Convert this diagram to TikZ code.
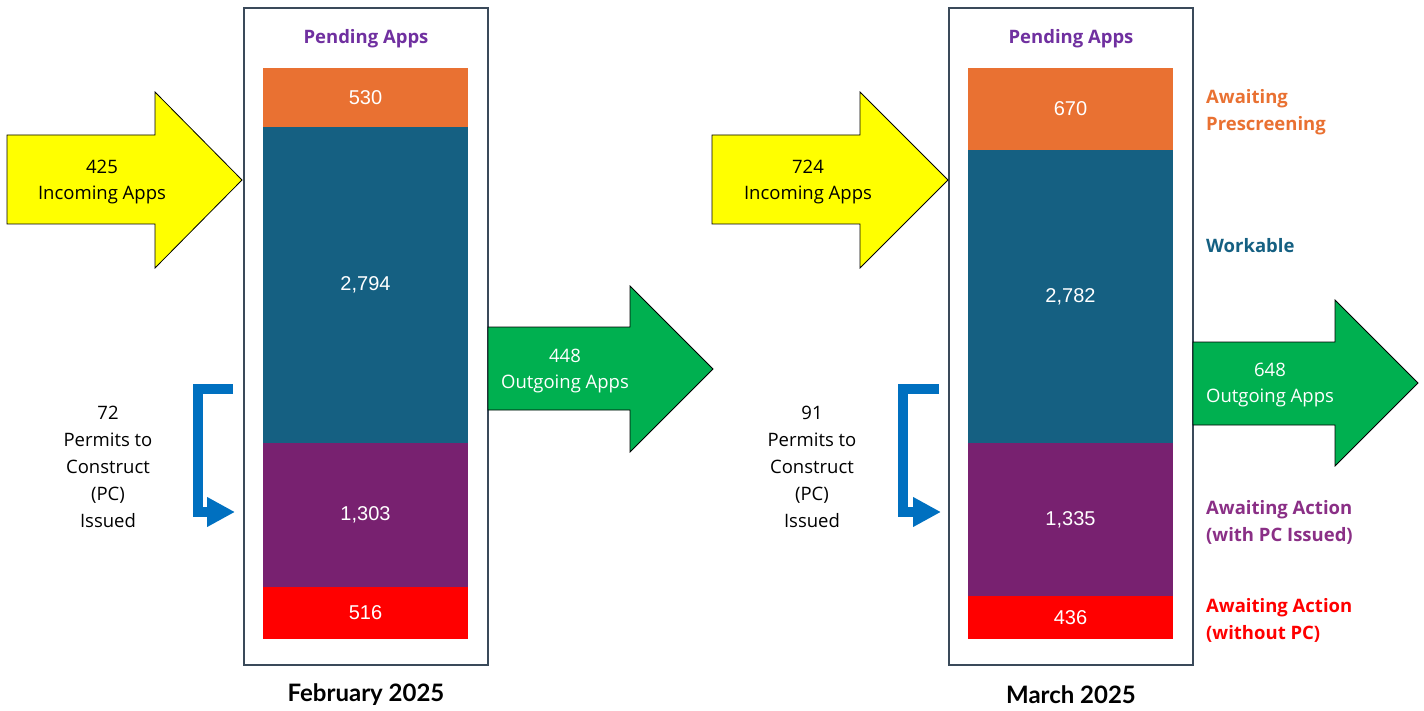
\documentclass[tikz,border=0pt]{standalone}
\usepackage{fontspec}
\setmainfont{Open Sans}
\newfontfamily\numfont{Liberation Sans}
\newfontfamily\monthfont{Lato}
\usetikzlibrary{arrows.meta}
\definecolor{segorange}{HTML}{E97132}
\definecolor{segblue}{HTML}{156082}
\definecolor{segpurple}{HTML}{782170}
\definecolor{segred}{HTML}{FF0000}
\definecolor{inyellow}{HTML}{FFFF00}
\definecolor{outgreen}{HTML}{00B050}
\definecolor{pcblue}{HTML}{0070C0}
\definecolor{framegray}{HTML}{3A4A5A}
\definecolor{titlepurple}{HTML}{7030A0}
\definecolor{lblpurple}{HTML}{8A2F86}

\begin{document}
\begin{tikzpicture}[x=1pt,y=-1pt,
  panel/.style={draw=framegray, line width=1.8pt, fill=white},
  seg/.style={anchor=north west, inner sep=0pt, outer sep=0pt, minimum width=205pt,
    text=white, font=\numfont\fontsize{20}{22}\selectfont},
  flow/.style={draw=black, line width=0.8pt, line join=miter},
  flowtext/.style={align=center, inner sep=0pt, font=\fontsize{18.5}{26}\selectfont},
  pctext/.style={align=center, inner sep=0pt, font=\fontsize{18.5}{27}\selectfont},
  pcarrow/.style={draw=pcblue, line width=10pt, line join=miter,
    -{Triangle[length=28pt,width=28pt]}},
  paneltitle/.style={text=titlepurple, font=\bfseries\fontsize{18.5}{22}\selectfont},
  month/.style={font=\monthfont\bfseries\fontsize{24}{28}\selectfont},
  legend/.style={anchor=west, align=left, inner sep=0pt,
    font=\bfseries\fontsize{18.5}{27}\selectfont}
]
\useasboundingbox (0,0) rectangle (1424,711);

% ---------- February panel ----------
\draw[panel] (244,8) rectangle (488,665);
\node[paneltitle] (febtitle) at (366,39) {Pending Apps};
\node[seg, fill=segorange, minimum height=59pt]  (feba) at (263,68)  {530};
\node[seg, fill=segblue,   minimum height=316pt] (febb) at (263,127) {2,794};
\node[seg, fill=segpurple, minimum height=144pt] (febc) at (263,443) {1,303};
\node[seg, fill=segred,    minimum height=52pt]  (febd) at (263,587) {516};
\node[month] (febmonth) at (366,695) {February 2025};

% ---------- March panel ----------
\draw[panel] (949,8) rectangle (1193,665);
\node[paneltitle] (martitle) at (1071,39) {Pending Apps};
\node[seg, fill=segorange, minimum height=82pt]  (mara) at (968,68)  {670};
\node[seg, fill=segblue,   minimum height=293pt] (marb) at (968,150) {2,782};
\node[seg, fill=segpurple, minimum height=153pt] (marc) at (968,443) {1,335};
\node[seg, fill=segred,    minimum height=43pt]  (mard) at (968,596) {436};
\node[month] (marmonth) at (1071,695) {March 2025};

% ---------- incoming arrows ----------
\filldraw[flow, fill=inyellow]
  (7,135) -- (155,135) -- (155,92) -- (242,180) -- (155,268) -- (155,224) -- (7,224) -- cycle;
\node[flowtext] (febin) at (102,182) {425\\Incoming Apps};

\filldraw[flow, fill=inyellow]
  (712,135) -- (860,135) -- (860,92) -- (948,180) -- (860,268) -- (860,224) -- (712,224) -- cycle;
\node[flowtext] (marin) at (808,182) {724\\Incoming Apps};

% ---------- outgoing arrows ----------
\filldraw[flow, fill=outgreen]
  (488,327) -- (630,327) -- (630,286) -- (713,369) -- (630,452) -- (630,410) -- (488,410) -- cycle;
\node[flowtext, text=white] (febout) at (565,371) {448\\Outgoing Apps};

\filldraw[flow, fill=outgreen]
  (1193,342) -- (1335,342) -- (1335,300) -- (1418,383) -- (1335,466) -- (1335,425) -- (1193,425) -- cycle;
\node[flowtext, text=white] (marout) at (1270,385) {648\\Outgoing Apps};

% ---------- permits to construct ----------
\coordinate (febpcstart) at (233,388.5);
\coordinate (febpcend) at (235,512);
\draw[pcarrow] (febpcstart) -- (198,388.5) |- (febpcend);
\node[pctext] (febpc) at (108,467) {72\\Permits to\\Construct\\(PC)\\Issued};

\coordinate (marpcstart) at (939,388.5);
\coordinate (marpcend) at (941,512);
\draw[pcarrow] (marpcstart) -- (903,388.5) |- (marpcend);
\node[pctext] (marpc) at (812,467) {91\\Permits to\\Construct\\(PC)\\Issued};

% ---------- category legend ----------
\node[legend, text=segorange] (lga) at (1206,112) {Awaiting\\Prescreening};
\node[legend, text=segblue]   (lgb) at (1206,246) {Workable};
\node[legend, text=lblpurple] (lgc) at (1206,522) {Awaiting Action\\(with PC Issued)};
\node[legend, text=segred]    (lgd) at (1206,620) {Awaiting Action\\(without PC)};
\end{tikzpicture}
\end{document}
